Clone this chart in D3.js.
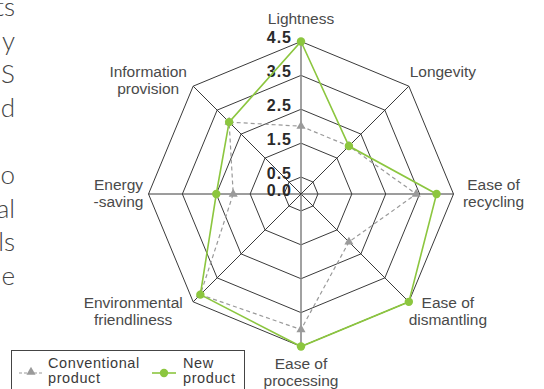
<!DOCTYPE html>
<html>
<head>
<meta charset="utf-8">
<script src="https://cdn.jsdelivr.net/npm/d3@7"></script>
<style>
  html, body { margin: 0; padding: 0; background: #fff; }
  svg { display: block; }
</style>
</head>
<body>
<svg id="chart" width="544" height="389"></svg>
<script>
// ---- data ----
const categories = [
  ["Lightness"],
  ["Longevity"],
  ["Ease of", "recycling"],
  ["Ease of", "dismantling"],
  ["Ease of", "processing"],
  ["Environmental", "friendliness"],
  ["Energy", "-saving"],
  ["Information", "provision"]
];
const conventionalValues = [2.0, 2.0, 3.4, 2.0, 4.0, 4.2, 2.0, 3.0];
const newProductValues   = [4.5, 2.0, 4.0, 4.5, 4.5, 4.2, 2.5, 3.0];
const ringValues = [0.5, 1.5, 2.5, 3.5, 4.5];
const tickValues = [0, 0.5, 1.5, 2.5, 3.5, 4.5];
const tickLabels = ["0.0", "0.5", "1.5", "2.5", "3.5", "4.5"];
const seriesNames = [["Conventional", "product"], ["New", "product"]];
const sideText = ["ts", "y", "S", "d", "", "o", "al", "ls", "e"];

// ---- layout ----
const svg = d3.select("#chart");
const cx = 301, cy = 194, R = 152.5;
const n = categories.length;
const r = d3.scaleLinear().domain([0, 4.5]).range([0, R]);
const angle = i => i * 2 * Math.PI / n;
const px = (v, i) => r(v) * Math.sin(angle(i));
const py = (v, i) => -r(v) * Math.cos(angle(i));

const g = svg.append("g").attr("transform", `translate(${cx},${cy})`);

// rings
const ringLine = d3.lineRadial()
  .angle((d, i) => angle(i))
  .radius(d => r(d))
  .curve(d3.curveLinearClosed);
g.selectAll("path.ring").data(ringValues).enter().append("path")
  .attr("class", "ring")
  .attr("d", v => ringLine(d3.range(n).map(() => v)))
  .attr("fill", "none").attr("stroke", "#3a3a3a").attr("stroke-width", 1);

// spokes
g.selectAll("line.spoke").data(d3.range(n)).enter().append("line")
  .attr("class", "spoke")
  .attr("x1", 0).attr("y1", 0)
  .attr("x2", i => px(4.5, i)).attr("y2", i => py(4.5, i))
  .attr("stroke", i => (i === 0 || i === 4) ? "#8a8a8a" : "#3a3a3a")
  .attr("stroke-width", i => (i === 0 || i === 4) ? 1.6 : 1);

// tick labels
g.selectAll("text.tick").data(tickValues).enter().append("text")
  .attr("class", "tick")
  .attr("x", -9)
  .attr("y", v => -r(v) + 1.5)
  .attr("text-anchor", "end")
  .attr("font-family", "Liberation Sans, Arial, sans-serif")
  .attr("font-size", 16)
  .attr("font-weight", "bold")
  .attr("letter-spacing", 1)
  .attr("fill", "#2a2a2a")
  .text((v, i) => tickLabels[i]);

// conventional series
g.append("path")
  .attr("d", ringLine(conventionalValues))
  .attr("fill", "none").attr("stroke", "#9a9a9a")
  .attr("stroke-width", 1.2).attr("stroke-dasharray", "4,3");
const tri = d3.symbol().type(d3.symbolTriangle).size(36);
g.selectAll("path.tri").data(conventionalValues).enter().append("path")
  .attr("class", "tri")
  .attr("d", tri)
  .attr("transform", (v, i) => `translate(${px(v, i)},${py(v, i)})`)
  .attr("fill", "#9a9a9a");

// new product series
g.append("path")
  .attr("d", ringLine(newProductValues))
  .attr("fill", "none").attr("stroke", "#8cc63f").attr("stroke-width", 1.6);
g.selectAll("circle.dot").data(newProductValues).enter().append("circle")
  .attr("class", "dot")
  .attr("cx", (v, i) => px(v, i)).attr("cy", (v, i) => py(v, i))
  .attr("r", 4.2).attr("fill", "#8cc63f");

// category labels (offsets from outer vertex)
const labelPos = [
  [0, -18], [34, -9], [40, -4], [39, 6], [0, 22], [-60, 6], [-30, -4], [-45, -9]
];
const labelFont = "Liberation Sans, Arial, sans-serif";
categories.forEach((lines, i) => {
  const x = cx + px(4.5, i) + labelPos[i][0];
  const y = cy + py(4.5, i) + labelPos[i][1];
  const t = svg.append("text")
    .attr("x", x).attr("y", y)
    .attr("text-anchor", "middle")
    .attr("font-family", labelFont)
    .attr("font-size", 15.5)
    .attr("fill", "#4a4a4a");
  lines.forEach((s, k) => {
    t.append("tspan").attr("x", x).attr("y", y + k * 17).text(s);
  });
});

// legend
const leg = svg.append("g");
leg.append("rect").attr("x", 11.5).attr("y", 350.5).attr("width", 233).attr("height", 60)
  .attr("fill", "#fff").attr("stroke", "#444").attr("stroke-width", 1);
leg.append("line").attr("x1", 19).attr("x2", 44).attr("y1", 373).attr("y2", 373)
  .attr("stroke", "#9a9a9a").attr("stroke-width", 1.2).attr("stroke-dasharray", "3,2");
leg.append("path").attr("d", tri).attr("transform", "translate(31,372)").attr("fill", "#9a9a9a");
leg.append("line").attr("x1", 152).attr("x2", 176).attr("y1", 373).attr("y2", 373)
  .attr("stroke", "#8cc63f").attr("stroke-width", 1.6);
leg.append("circle").attr("cx", 164).attr("cy", 373).attr("r", 4.2).attr("fill", "#8cc63f");
[[48, seriesNames[0]], [183, seriesNames[1]]].forEach(([x, lines]) => {
  const t = leg.append("text").attr("font-family", labelFont).attr("font-size", 14.5)
    .attr("letter-spacing", 0.6)
    .attr("fill", "#3a3a3a");
  lines.forEach((s, k) => t.append("tspan").attr("x", x).attr("y", 368 + k * 15).text(s));
});

// cropped paragraph on the left
svg.selectAll("text.side").data(sideText).enter().append("text")
  .attr("class", "side")
  .attr("x", 15)
  .attr("y", (d, i) => 16 + i * 33.6)
  .attr("text-anchor", "end")
  .attr("font-family", "Lato, sans-serif")
  .attr("font-weight", 300)
  .attr("font-size", 26)
  .attr("fill", "#444")
  .text(d => d);
</script>
</body>
</html>
